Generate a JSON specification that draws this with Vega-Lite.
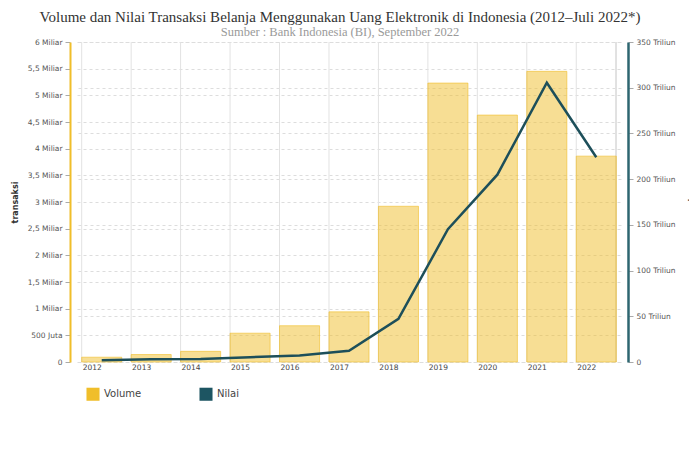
{
  "$schema": "https://vega.github.io/schema/vega-lite/v6.json",
  "width": 544,
  "height": 320,
  "autosize": {"type": "none"},
  "padding": {"left": 77, "top": 42, "right": 68, "bottom": 90},
  "background": "white",
  "title": {
    "text": "Volume dan Nilai Transaksi Belanja Menggunakan Uang Elektronik di Indonesia (2012–Juli 2022*)",
    "subtitle": "Sumber : Bank Indonesia (BI), September 2022",
    "font": "Liberation Serif",
    "fontSize": 15,
    "fontWeight": "normal",
    "color": "#333333",
    "subtitleFont": "Liberation Serif",
    "subtitleFontSize": 12.5,
    "subtitleColor": "#9a9a9a",
    "subtitlePadding": 1,
    "anchor": "middle",
    "frame": "group",
    "dx": -9,
    "offset": 0
  },
  "config": {
    "view": {"stroke": null},
    "axis": {"labelFont": "DejaVu Sans", "titleFont": "DejaVu Sans"},
    "legend": {"labelFont": "DejaVu Sans"}
  },
  "data": {
    "values": [
      {"year": "2012", "volume": 0.09, "nilai": 1.97},
      {"year": "2013", "volume": 0.14, "nilai": 2.91},
      {"year": "2014", "volume": 0.2, "nilai": 3.32},
      {"year": "2015", "volume": 0.54, "nilai": 5.28},
      {"year": "2016", "volume": 0.68, "nilai": 7.06},
      {"year": "2017", "volume": 0.94, "nilai": 12.38},
      {"year": "2018", "volume": 2.92, "nilai": 47.2},
      {"year": "2019", "volume": 5.23, "nilai": 145.2},
      {"year": "2020", "volume": 4.63, "nilai": 204.9},
      {"year": "2021", "volume": 5.45, "nilai": 305.4},
      {"year": "2022", "volume": 3.86, "nilai": 224.0}
    ]
  },
  "layer": [
    {
      "mark": {"type": "rule", "color": "#e2e2e2", "strokeWidth": 1},
      "encoding": {
        "x": {"field": "year", "type": "ordinal", "bandPosition": 0}
      }
    },
    {
      "mark": {"type": "rule", "color": "#e2e2e2", "strokeWidth": 1},
      "encoding": {
        "x": {"datum": "2022", "type": "ordinal", "bandPosition": 1}
      }
    },
    {
      "mark": {"type": "bar", "fillOpacity": 0.5, "stroke": "#F0BE2A", "strokeOpacity": 0.6, "strokeWidth": 1},
      "encoding": {
        "x": {
          "field": "year",
          "type": "ordinal",
          "scale": {"paddingInner": 0.19, "paddingOuter": 0.095},
          "axis": {
            "title": null,
            "domain": false,
            "ticks": false,
            "grid": false,
            "labelAngle": 0,
            "labelFontSize": 7.5,
            "labelColor": "#444444",
            "labelPadding": 5
          }
        },
        "y": {
          "field": "volume",
          "type": "quantitative",
          "scale": {"domain": [0, 6], "nice": false},
          "axis": {
            "orient": "left",
            "title": "transaksi",
            "titleFontSize": 8,
            "titleFontWeight": "bold",
            "titleColor": "#333333",
            "titlePadding": 8,
            "values": [0, 0.5, 1, 1.5, 2, 2.5, 3, 3.5, 4, 4.5, 5, 5.5, 6],
            "labelExpr": "datum.value == 0 ? '0' : datum.value < 1 ? format(datum.value * 1000, 'd') + ' Juta' : replace(format(datum.value, '.1~f'), '.', ',') + ' Miliar'",
            "labelFontSize": 7.5,
            "labelColor": "#555555",
            "labelPadding": 3,
            "tickColor": "#aaaaaa",
            "tickSize": 5,
            "domainColor": "#F0BE2A",
            "domainWidth": 2,
            "offset": 7,
            "grid": true,
            "gridColor": "#dddddd",
            "gridDash": [3, 3]
          }
        },
        "fill": {
          "datum": "Volume",
          "type": "nominal",
          "scale": {"domain": ["Volume", "Nilai"], "range": ["#F0BE2A", "#1D5562"]},
          "legend": {
            "title": null,
            "orient": "none",
            "legendX": 9,
            "legendY": 345,
            "direction": "horizontal",
            "symbolType": "square",
            "symbolSize": 170,
            "symbolOpacity": 1,
            "symbolStrokeWidth": 0,
            "labelFontSize": 10,
            "labelColor": "#444444",
            "labelOffset": 4,
            "columnPadding": 57
          }
        }
      }
    },
    {
      "mark": {"type": "line", "color": "#1D4F5A", "strokeWidth": 2.5},
      "encoding": {
        "x": {"field": "year", "type": "ordinal"},
        "y": {
          "field": "nilai",
          "type": "quantitative",
          "scale": {"domain": [0, 350], "nice": false},
          "axis": {
            "orient": "right",
            "title": "Rupiah",
            "titleFontSize": 8,
            "titleFontWeight": "bold",
            "titleColor": "#333333",
            "titlePadding": 12,
            "values": [0, 50, 100, 150, 200, 250, 300, 350],
            "labelExpr": "datum.value == 0 ? '0' : datum.value + ' Triliun'",
            "labelFontSize": 7.5,
            "labelColor": "#555555",
            "labelPadding": 3,
            "tickColor": "#aaaaaa",
            "tickSize": 5,
            "domainColor": "#2E6670",
            "domainWidth": 2.5,
            "offset": 7,
            "grid": true,
            "gridColor": "#dddddd",
            "gridDash": [3, 3]
          }
        }
      }
    }
  ],
  "resolve": {"scale": {"y": "independent"}, "axis": {"y": "independent"}}
}
